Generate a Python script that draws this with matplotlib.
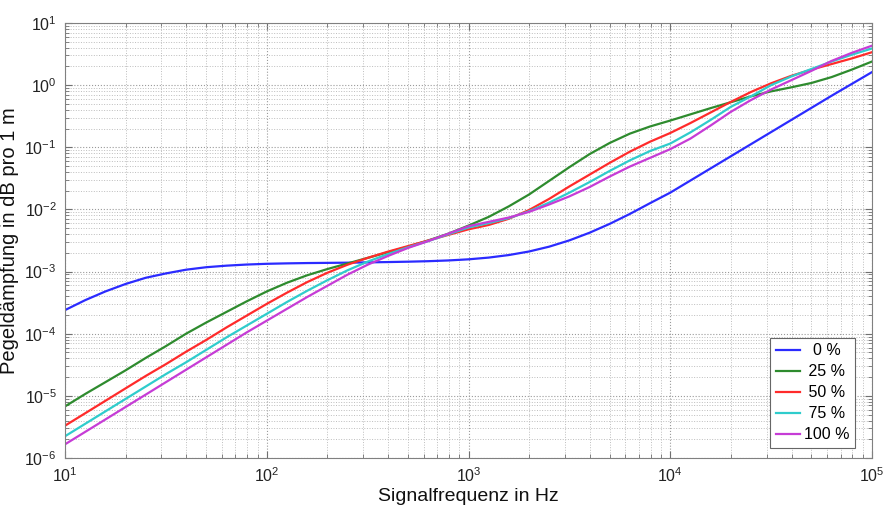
import numpy as np
import matplotlib
matplotlib.use('Agg')
import matplotlib.pyplot as plt
from matplotlib.ticker import LogLocator, NullFormatter

plt.rcParams['font.family'] = ['Liberation Sans', 'DejaVu Sans']

freq = [10, 12.59, 15.85, 19.95, 25.12, 31.62, 39.81, 50.12, 63.1, 79.43,
        100, 125.9, 158.5, 199.5, 251.2, 316.2, 398.1, 501.2, 631, 794.3,
        1e3, 1259, 1585, 1995, 2512, 3162, 3981, 5012, 6310, 7943,
        1e4, 12589, 15849, 19953, 25119, 31623, 39811, 50119, 63096, 79433, 1e5]

# Attenuation in dB per 1 m, as log10 values
att_0 = [-3.62, -3.46, -3.32, -3.20, -3.10, -3.03, -2.97, -2.93, -2.905, -2.887,
         -2.875, -2.868, -2.863, -2.860, -2.857, -2.852, -2.847, -2.841, -2.833, -2.821,
         -2.803, -2.775, -2.734, -2.677, -2.599, -2.498, -2.375, -2.232, -2.072, -1.899,
         -1.73, -1.535, -1.34, -1.145, -0.95, -0.755, -0.56, -0.365, -0.17, 0.02, 0.21]
att_25 = [-5.17, -4.97, -4.78, -4.59, -4.39, -4.20, -4.00, -3.82, -3.65, -3.48,
          -3.32, -3.18, -3.06, -2.96, -2.87, -2.78, -2.69, -2.60, -2.50, -2.39,
          -2.26, -2.12, -1.95, -1.76, -1.54, -1.32, -1.11, -0.93, -0.78, -0.665,
          -0.57, -0.47, -0.37, -0.275, -0.18, -0.10, -0.035, 0.035, 0.13, 0.25, 0.38]
att_50 = [-5.48, -5.28, -5.08, -4.88, -4.68, -4.49, -4.29, -4.10, -3.90, -3.71,
          -3.52, -3.34, -3.17, -3.02, -2.89, -2.78, -2.68, -2.59, -2.50, -2.41,
          -2.32, -2.25, -2.15, -2.01, -1.83, -1.63, -1.44, -1.25, -1.07, -0.91,
          -0.77, -0.61, -0.44, -0.27, -0.11, 0.03, 0.15, 0.25, 0.34, 0.43, 0.53]
att_75 = [-5.65, -5.45, -5.25, -5.05, -4.85, -4.65, -4.46, -4.26, -4.06, -3.87,
          -3.68, -3.49, -3.31, -3.14, -2.98, -2.84, -2.72, -2.61, -2.51, -2.40,
          -2.29, -2.22, -2.14, -2.03, -1.89, -1.73, -1.56, -1.38, -1.21, -1.06,
          -0.94, -0.76, -0.56, -0.35, -0.18, 0.00, 0.14, 0.26, 0.38, 0.49, 0.59]
att_100 = [-5.78, -5.58, -5.38, -5.18, -4.98, -4.78, -4.58, -4.38, -4.18, -3.98,
           -3.79, -3.60, -3.41, -3.23, -3.05, -2.89, -2.75, -2.62, -2.51, -2.39,
           -2.27, -2.20, -2.13, -2.04, -1.92, -1.79, -1.64, -1.47, -1.31, -1.17,
           -1.03, -0.86, -0.65, -0.43, -0.24, -0.07, 0.08, 0.23, 0.39, 0.52, 0.635]

labels = ['  0 %', ' 25 %', ' 50 %', ' 75 %', '100 %']
colors = ['#2b2bff', '#2e8b2e', '#ff2b2b', '#2fcccc', '#c63cd6']

fig = plt.figure(figsize=(8.86, 5.07), dpi=100)
ax = fig.add_axes([65 / 886, 1 - 458 / 507, (872 - 65) / 886, (458 - 23) / 507])

for vals, c, lab in zip([att_0, att_25, att_50, att_75, att_100], colors, labels):
    ax.loglog(freq, 10 ** np.array(vals), color=c, lw=1.6, label=lab)

ax.set_xlim(10, 1e5)
ax.set_ylim(1e-6, 10)

for axis in (ax.xaxis, ax.yaxis):
    axis.set_major_locator(LogLocator(base=10, numticks=20))
    axis.set_minor_locator(LogLocator(base=10, subs=np.arange(2, 10), numticks=200))
    axis.set_minor_formatter(NullFormatter())

ax.grid(True, which='major', ls=':', color='#9a9a9a', lw=0.8)
ax.grid(True, which='minor', ls=':', color='#bdbdbd', lw=0.7)
ax.set_axisbelow(True)

ax.tick_params(which='both', direction='in', top=True, right=True,
               color='#707070', labelcolor='#222222', labelsize=11.5, pad=6)
ax.tick_params(which='major', length=5)
ax.tick_params(which='minor', length=3)
for s in ax.spines.values():
    s.set_color('#808080')

ax.set_xlabel('Signalfrequenz in Hz', fontsize=14, color='#111111', labelpad=2)
ax.set_ylabel('Pegeldämpfung in dB pro 1 m', fontsize=14.5, color='#111111', labelpad=4)

leg = ax.legend(loc='lower right', bbox_to_anchor=(0.979, 0.023), borderaxespad=0,
                fontsize=11.5, fancybox=False, framealpha=1, edgecolor='#666666',
                handlelength=1.5, handletextpad=0.25, labelspacing=0.38, borderpad=0.35)
leg.get_frame().set_linewidth(0.8)
for line in leg.get_lines():
    line.set_linewidth(1.6)

fig.savefig('out.png', dpi=100)
